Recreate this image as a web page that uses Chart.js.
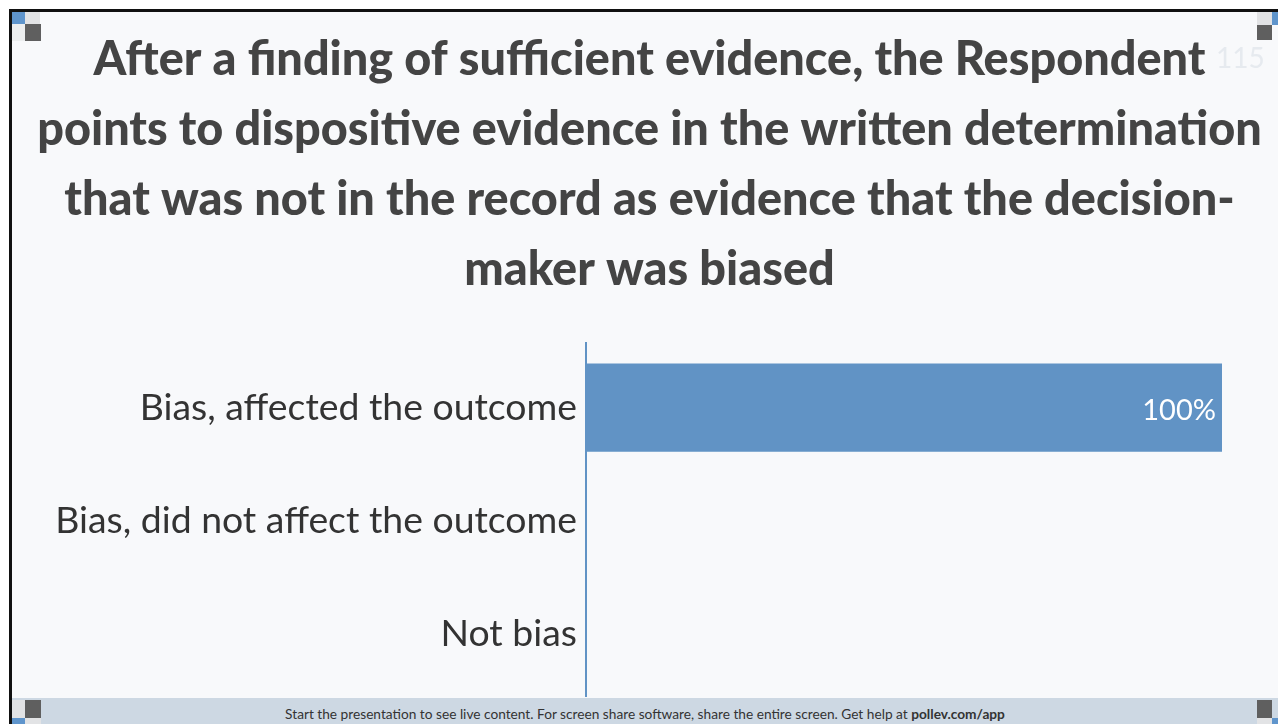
<!DOCTYPE html>
<html>
<head>
<meta charset="utf-8">
<script src="https://cdn.jsdelivr.net/npm/chart.js@4.4.1/dist/chart.umd.min.js"></script>
<style>
  html, body { margin: 0; padding: 0; background: #fff; }
  body { width: 1278px; height: 724px; position: relative; overflow: hidden; font-family: Lato, "Noto Sans", sans-serif; }
  #frame { position: absolute; left: 9px; top: 9px; width: 1280px; height: 720px; border-left: 3px solid #111; border-top: 3px solid #111; background: #f8f9fb; }
  #myChart { position: absolute; left: 21px; top: 12px; }
  #footer { position: absolute; left: 12px; top: 698px; width: 1266px; height: 26px; background: #cdd8e3; color: #333; font-size: 13.7px; line-height: 31px; text-align: center; }
  #footer b { font-weight: 700; }
  .sq { position: absolute; }
  #num { position: absolute; left: 1216px; top: 40px; font-size: 28px; color: #e6eaef; }
</style>
</head>
<body>
<div id="frame"></div>
<canvas id="myChart" width="1257" height="685"></canvas>
<div id="num">115</div>
<div id="footer">Start the presentation to see live content. For screen share software, share the entire screen. Get help at <b>pollev.com/app</b></div>
<div class="sq" style="left:12px;top:12px;width:13px;height:12px;background:#5f95cc"></div>
<div class="sq" style="left:25px;top:12px;width:15px;height:12px;background:#e2e3e5"></div>
<div class="sq" style="left:12px;top:24px;width:13px;height:17px;background:#eceeef"></div>
<div class="sq" style="left:25px;top:24px;width:16px;height:17px;background:#5f5f5f"></div>
<div class="sq" style="left:1257px;top:12px;width:15px;height:13px;background:#e2e3e5"></div>
<div class="sq" style="left:1272px;top:12px;width:6px;height:13px;background:#5f95cc"></div>
<div class="sq" style="left:1257px;top:25px;width:15px;height:15px;background:#5f5f5f"></div>
<div class="sq" style="left:12px;top:700px;width:13px;height:18px;background:#e2e3e5"></div>
<div class="sq" style="left:25px;top:700px;width:16px;height:18px;background:#5f5f5f"></div>
<div class="sq" style="left:12px;top:718px;width:13px;height:6px;background:#5f95cc"></div>
<div class="sq" style="left:25px;top:718px;width:16px;height:6px;background:#e2e3e5"></div>
<div class="sq" style="left:1257px;top:700px;width:15px;height:18px;background:#5f5f5f"></div>
<div class="sq" style="left:1257px;top:718px;width:15px;height:6px;background:#e2e3e5"></div>
<div class="sq" style="left:1272px;top:718px;width:6px;height:6px;background:#5f95cc"></div>
<script>
const titleLines = [
    'After a finding of sufficient evidence, the Respondent',
    'points to dispositive evidence in the written determination',
    'that was not in the record as evidence that the decision-',
    'maker was biased'
];
const categories = ['Bias, affected the outcome', 'Bias, did not affect the outcome', 'Not bias'];
const percents = [100, 0, 0];

const fontFamily = 'Lato, "Noto Sans", sans-serif';

// fit font sizes to the widths seen in the picture
function fitSize(text, weight, target) {
    const c = document.createElement('canvas').getContext('2d');
    c.font = weight + ' 100px ' + fontFamily;
    return 100 * target / c.measureText(text).width;
}
const titleSize = fitSize(titleLines[1], '900', 1225);
const labelSize = fitSize(categories[1], 'normal', 522);

const valueLabels = {
    id: 'valueLabels',
    afterDatasetsDraw(chart) {
        const ctx = chart.ctx;
        const meta = chart.getDatasetMeta(0);
        ctx.save();
        ctx.fillStyle = '#ffffff';
        ctx.font = 'normal 29px ' + fontFamily;
        ctx.textAlign = 'right';
        ctx.textBaseline = 'middle';
        meta.data.forEach(function (bar, i) {
            if (percents[i] > 0) {
                ctx.fillText(percents[i] + '%', bar.x - 6, bar.y + 3);
            }
        });
        ctx.restore();
    }
};

// value axis line, a little longer than the bar area
const axisLine = {
    id: 'axisLine',
    afterDatasetsDraw(chart) {
        const ctx = chart.ctx;
        const area = chart.chartArea;
        ctx.save();
        ctx.strokeStyle = '#6193c5';
        ctx.lineWidth = 2;
        ctx.beginPath();
        ctx.moveTo(area.left, area.top - 9);
        ctx.lineTo(area.left, area.bottom + 6);
        ctx.stroke();
        ctx.restore();
    }
};

function noPad(scale) {
    scale.paddingTop = 0;
    scale.paddingBottom = 0;
}

function createChart() {
    var ctx = document.getElementById('myChart').getContext('2d');
    new Chart(ctx, {
        type: 'bar',
        data: {
            labels: categories,
            datasets: [{
                data: percents,
                backgroundColor: '#6193c5',
                categoryPercentage: 0.78,
                barPercentage: 1
            }]
        },
        plugins: [valueLabels, axisLine],
        options: {
            indexAxis: 'y',
            responsive: false,
            animation: false,
            layout: { padding: { left: 0, right: 0, top: 0, bottom: 6 } },
            plugins: {
                legend: { display: false },
                tooltip: { enabled: false },
                title: {
                    display: true,
                    text: titleLines,
                    color: '#444444',
                    font: { family: fontFamily, size: titleSize, weight: '900', lineHeight: 70 / titleSize },
                    padding: { top: 13, bottom: 46 }
                }
            },
            scales: {
                x: { display: false, min: 0, max: 100 },
                y: {
                    border: { display: false },
                    grid: { display: false },
                    ticks: {
                        color: '#333333',
                        font: { family: fontFamily, size: labelSize },
                        padding: 1
                    },
                    afterFit: function (scale) { scale.width = 565; noPad(scale); }
                },
                spacer: {
                    type: 'linear',
                    position: 'right',
                    border: { display: false },
                    grid: { display: false },
                    ticks: { display: false },
                    afterFit: function (scale) { scale.width = 56; noPad(scale); }
                }
            }
        }
    });
}
createChart();
</script>
</body>
</html>
